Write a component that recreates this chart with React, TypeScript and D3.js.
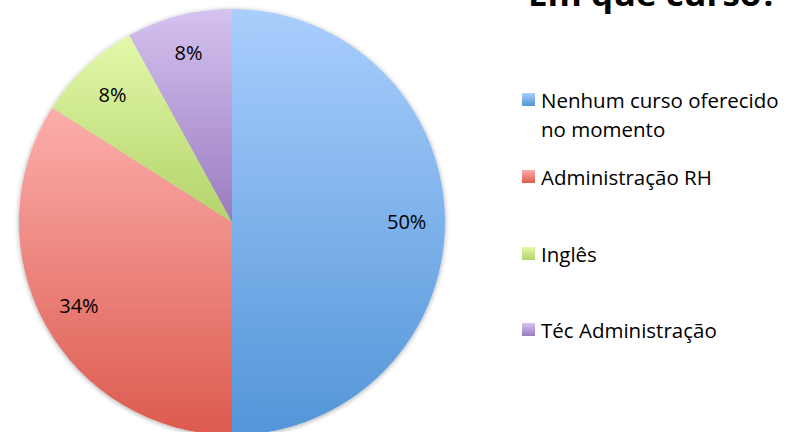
import React from "react";
import * as d3 from "d3";

const categories = ["Nenhum curso oferecido|no momento", "Administração RH", "Inglês", "Téc Administração"];
const values = [50, 34, 8, 8];
const labels = ["50%", "34%", "8%", "8%"];
const gradTop = ["#aacefd", "#fcaeab", "#e3f9aa", "#d4c2ef"];
const gradBottom = ["#5295d8", "#dc5a4e", "#b3d36a", "#9a7bc0"];
const title = "Em que curso?";

const App: React.FC = () => {
  const width = 800;
  const height = 432;
  const cx = 232;
  const cy = 222;
  const r = 213;

  const pie = d3.pie<number>().sort(null).value((d) => d);
  const arcs = pie(values);
  const arc = d3.arc<d3.PieArcDatum<number>>().innerRadius(0).outerRadius(r);
  const labelArc = d3
    .arc<d3.PieArcDatum<number>>()
    .innerRadius(r * 0.82)
    .outerRadius(r * 0.82);

  // legend rows (baseline of first line)
  const legendY = [108, 185, 262, 338];

  return (
    <svg
      width={width}
      height={height}
      style={{ position: "absolute", left: 0, top: 0 }}
      fontFamily="'Open Sans', sans-serif"
    >
      <defs>
        {values.map((_, i) => (
          <linearGradient key={i} id={`g${i}`} x1="0" y1="0" x2="0" y2="1">
            <stop offset="0" stopColor={gradTop[i]} />
            <stop offset="1" stopColor={gradBottom[i]} />
          </linearGradient>
        ))}
        <filter id="shadow" x="-10%" y="-10%" width="120%" height="120%">
          <feDropShadow dx="0" dy="1" stdDeviation="2.5" floodColor="#000" floodOpacity="0.35" />
        </filter>
      </defs>
      <rect width={width} height={height} fill="#fff" />
      <g transform={`translate(${cx},${cy})`}>
        <g filter="url(#shadow)">
          {arcs.map((a, i) => (
            <path key={i} d={arc(a) || ""} fill={`url(#g${i})`} />
          ))}
        </g>
        {arcs.map((a, i) => {
          const [x, y] = labelArc.centroid(a);
          return (
            <text
              key={i}
              x={x}
              y={y}
              dy="0.35em"
              textAnchor="middle"
              fontSize={20}
              fill="#000"
            >
              {labels[i]}
            </text>
          );
        })}
      </g>
      <text x={528} y={6} fontSize={32} fontWeight="bold" fill="#000" textLength={250} lengthAdjust="spacingAndGlyphs">
        {title}
      </text>
      {categories.map((c, i) => {
        const lines = c.split("|");
        return (
          <g key={i}>
            <rect x={522} y={legendY[i] - 15} width={13} height={13} fill={`url(#g${i})`} />
            {lines.map((l, j) => (
              <text key={j} x={541} y={legendY[i] + j * 29} fontSize={20.5} fill="#000">
                {l}
              </text>
            ))}
          </g>
        );
      })}
    </svg>
  );
};

export default App;
